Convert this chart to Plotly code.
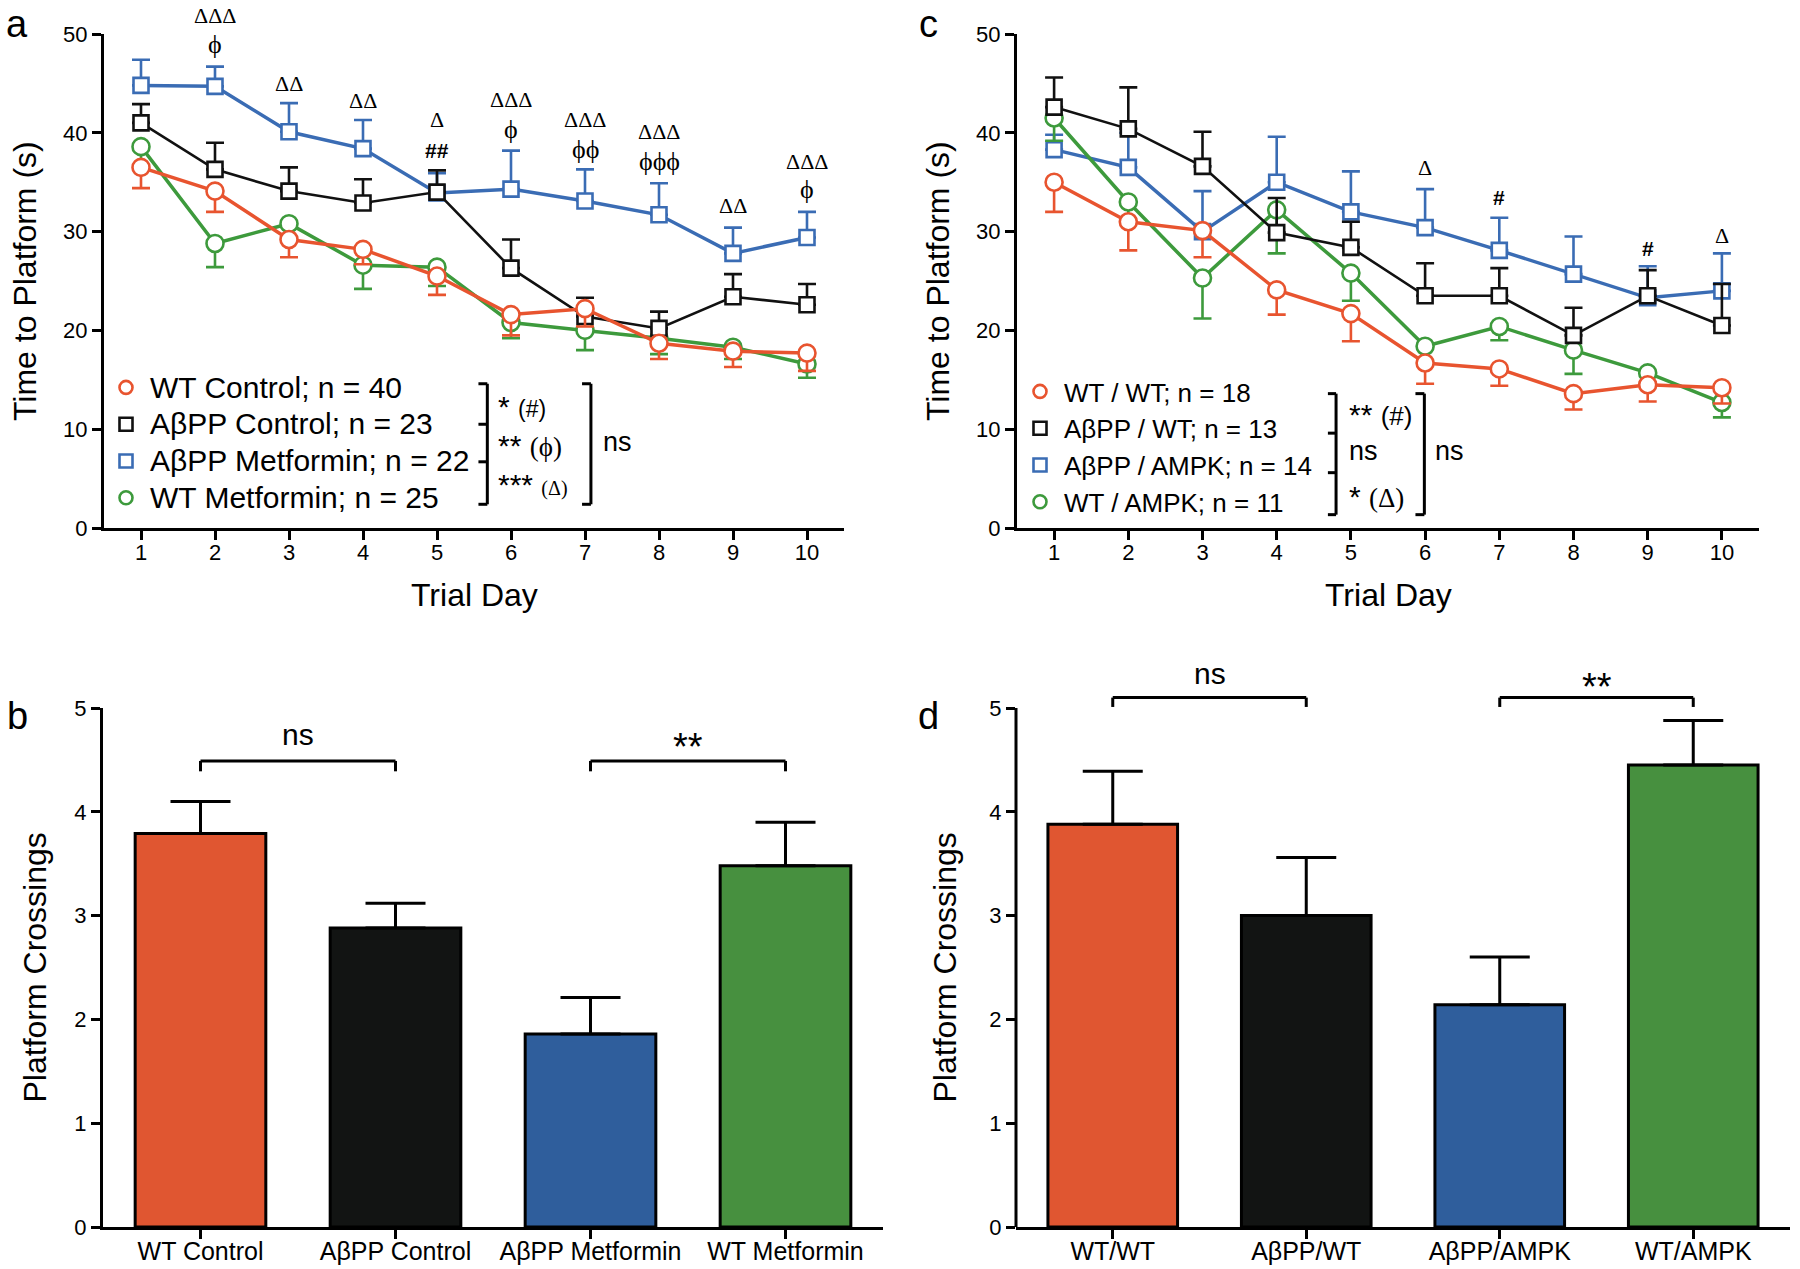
import plotly.graph_objects as go

W, H = 1800, 1269
SANS = "Liberation Sans, Arial, Helvetica, sans-serif"
SERIF = "Liberation Serif, DejaVu Serif, Times New Roman, serif"

ORANGE = "#E8542F"
BLACK = "#111111"
BLUE = "#3A6CB4"
GREEN = "#3D9A3C"
BAR_COLORS = ["#E05631", "#121413", "#2F5E9C", "#47903F"]

days = list(range(1, 11))

# ---- panel a : metformin study, escape latency ----
a_wt_ctrl = [36.5, 34.1, 29.2, 28.2, 25.5, 21.6, 22.2, 18.7, 17.9, 17.7]
a_wt_ctrl_err = [2.1, 2.1, 1.8, 1.5, 1.9, 2.1, 1.8, 1.6, 1.6, 1.8]
a_app_ctrl = [41.0, 36.3, 34.1, 32.9, 34.0, 26.3, 21.4, 20.2, 23.4, 22.6]
a_app_ctrl_err = [1.9, 2.7, 2.4, 2.4, 2.2, 2.9, 1.9, 1.7, 2.3, 2.1]
a_app_met = [44.8, 44.7, 40.1, 38.4, 33.9, 34.3, 33.1, 31.7, 27.8, 29.4]
a_app_met_err = [2.6, 2.0, 2.9, 2.9, 2.0, 3.9, 3.2, 3.2, 2.6, 2.6]
a_wt_met = [38.6, 28.8, 30.8, 26.6, 26.4, 20.8, 20.0, 19.2, 18.3, 16.6]
a_wt_met_err = [2.0, 2.4, 1.5, 2.4, 1.9, 1.6, 2.0, 1.6, 1.2, 1.4]
a_names = ["WT Control; n = 40", "AβPP Control; n = 23",
           "AβPP Metformin; n = 22", "WT Metformin; n = 25"]

a_sig_day = [2, 2, 3, 4, 5, 5, 6, 6, 7, 7, 8, 8, 9, 10, 10]
a_sig_txt = ["ΔΔΔ", "ϕ", "ΔΔ", "ΔΔ", "Δ", "##", "ΔΔΔ", "ϕ", "ΔΔΔ", "ϕϕ",
             "ΔΔΔ", "ϕϕϕ", "ΔΔ", "ΔΔΔ", "ϕ"]
a_sig_y = [51.9, 48.9, 45.0, 43.3, 41.3, 38.2, 43.4, 40.3, 41.3, 38.3,
           40.1, 37.1, 32.6, 37.1, 34.3]

# ---- panel c : AMPK study, escape latency ----
c_wt_wt = [35.0, 31.0, 30.1, 24.1, 21.7, 16.7, 16.1, 13.6, 14.5, 14.2]
c_wt_wt_err = [3.0, 2.9, 2.7, 2.5, 2.8, 2.1, 1.7, 1.6, 1.7, 1.6]
c_app_wt = [42.6, 40.4, 36.6, 29.9, 28.4, 23.5, 23.5, 19.5, 23.5, 20.5]
c_app_wt_err = [3.0, 4.2, 3.5, 3.5, 2.6, 3.3, 2.8, 2.8, 2.6, 4.2]
c_app_ampk = [38.3, 36.5, 30.0, 35.0, 32.0, 30.4, 28.1, 25.7, 23.3, 24.0]
c_app_ampk_err = [1.5, 3.5, 4.1, 4.6, 4.1, 3.9, 3.3, 3.8, 3.2, 3.8]
c_wt_ampk = [41.5, 33.0, 25.3, 32.2, 25.8, 18.4, 20.4, 18.0, 15.7, 12.7]
c_wt_ampk_err = [2.3, 2.0, 4.1, 4.4, 2.8, 1.5, 1.4, 2.4, 1.0, 1.5]
c_names = ["WT / WT; n = 18", "AβPP / WT; n = 13",
           "AβPP / AMPK; n = 14", "WT / AMPK; n = 11"]

c_sig_day = [6, 7, 9, 10]
c_sig_txt = ["Δ", "#", "#", "Δ"]
c_sig_y = [36.5, 33.5, 28.3, 29.6]

# ---- panel b / d : platform crossings ----
b_labels = ["WT Control", "AβPP Control", "AβPP Metformin", "WT Metformin"]
b_vals = [3.79, 2.88, 1.86, 3.48]
b_err = [0.31, 0.24, 0.35, 0.42]

d_labels = ["WT/WT", "AβPP/WT", "AβPP/AMPK", "WT/AMPK"]
d_vals = [3.88, 3.00, 2.14, 4.45]
d_err = [0.51, 0.56, 0.46, 0.43]

LAT_MAX = 50      # latency axis top
D_TOP = 5.5       # panel d range is taller than its axis line (room for bracket)
PX_PER_UNIT = 103.8


def xdom(p0, p1):
    return [p0 / W, p1 / W]


def ydom(p_bottom, p_top):
    return [1 - p_bottom / H, 1 - p_top / H]


fig = go.Figure()


def add_series(xa, ya, y, err, color, symbol, lw, up):
    zeros = [0] * len(err)
    fig.add_trace(go.Scatter(
        x=days, y=y, xaxis=xa, yaxis=ya, mode="lines+markers",
        line=dict(color=color, width=lw),
        marker=dict(symbol=symbol, size=17 if symbol == "circle" else 15,
                    color="white", line=dict(color=color, width=2.6)),
        error_y=dict(type="data", symmetric=False,
                     array=err if up else zeros,
                     arrayminus=zeros if up else err,
                     color=color, thickness=2.6, width=9),
        showlegend=False, hoverinfo="skip"))


def add_legend_keys(names, legend, size_px=None):
    styles = [(ORANGE, "circle"), (BLACK, "square"), (BLUE, "square"), (GREEN, "circle")]
    for name, (col, sym) in zip(names, styles):
        label = name if size_px is None else f"<span style='font-size:{size_px}px'>{name}</span>"
        fig.add_trace(go.Scatter(
            x=[None], y=[None], mode="markers", name=label, legend=legend,
            marker=dict(symbol=sym, size=13, color="white", line=dict(color=col, width=2.6)),
            showlegend=True))


# panel a traces (blue bottom, orange top)
add_series("x", "y", a_app_met, a_app_met_err, BLUE, "square", 3.5, True)
add_series("x", "y", a_wt_met, a_wt_met_err, GREEN, "circle", 3.5, False)
add_series("x", "y", a_app_ctrl, a_app_ctrl_err, BLACK, "square", 2.6, True)
add_series("x", "y", a_wt_ctrl, a_wt_ctrl_err, ORANGE, "circle", 3.5, False)
add_legend_keys(a_names, "legend", 30)

# panel c traces
add_series("x2", "y2", c_app_ampk, c_app_ampk_err, BLUE, "square", 3.5, True)
add_series("x2", "y2", c_wt_ampk, c_wt_ampk_err, GREEN, "circle", 3.5, False)
add_series("x2", "y2", c_app_wt, c_app_wt_err, BLACK, "square", 2.6, True)
add_series("x2", "y2", c_wt_wt, c_wt_wt_err, ORANGE, "circle", 3.5, False)
add_legend_keys(c_names, "legend2")

# bar panels
for xa, ya, labels, vals, err in [("x3", "y3", b_labels, b_vals, b_err),
                                  ("x4", "y4", d_labels, d_vals, d_err)]:
    fig.add_trace(go.Bar(
        x=labels, y=vals, xaxis=xa, yaxis=ya, width=0.67,
        marker=dict(color=BAR_COLORS, line=dict(color="black", width=3)),
        error_y=dict(type="data", symmetric=False, array=err,
                     arrayminus=[0] * len(err), color="black", thickness=3, width=30),
        showlegend=False, hoverinfo="skip"))

axis_common = dict(showline=True, linecolor="black", linewidth=3, ticks="outside",
                   ticklen=9, tickwidth=3, tickcolor="black", showgrid=False,
                   zeroline=False, automargin=False,
                   tickfont=dict(family=SANS, size=22, color="black"))
day_axis = {**axis_common, "ticklabelstandoff": -6}
cat_axis = {**axis_common, "ticklabelstandoff": -9,
            "tickfont": dict(family=SANS, size=25, color="black")}
legend_common = dict(xanchor="left", yanchor="top", bgcolor="rgba(0,0,0,0)",
                     font=dict(family=SANS, size=26, color="black"),
                     tracegroupgap=0, itemclick=False, itemwidth=38)

fig.update_layout(
    width=W, height=H, margin=dict(l=0, r=0, t=0, b=0, autoexpand=False),
    paper_bgcolor="white", plot_bgcolor="white",
    font=dict(family=SANS, color="black"),
    xaxis=dict(domain=xdom(104, 844), range=[0.5, 10.5], tickvals=days, anchor="y", **day_axis),
    yaxis=dict(domain=ydom(528, 34), range=[0, LAT_MAX], dtick=10, anchor="x", **axis_common),
    xaxis2=dict(domain=xdom(1017, 1759), range=[0.5, 10.5], tickvals=days, anchor="y2", **day_axis),
    yaxis2=dict(domain=ydom(528, 34), range=[0, LAT_MAX], dtick=10, anchor="x2", **axis_common),
    xaxis3=dict(domain=xdom(103, 883), range=[-0.5, 3.5], anchor="y3", **cat_axis),
    yaxis3=dict(domain=ydom(1227, 1227 - 5 * PX_PER_UNIT), range=[0, 5], dtick=1, anchor="x3",
                **axis_common),
    xaxis4=dict(domain=xdom(1016, 1790), range=[-0.5, 3.5], anchor="y4", **cat_axis),
    yaxis4=dict(domain=ydom(1227, 1227 - D_TOP * PX_PER_UNIT), range=[0, D_TOP],
                tickvals=[0, 1, 2, 3, 4, 5], anchor="x4", **{**axis_common, "showline": False}),
    legend=dict(x=102 / W, y=1 - 364 / H, **legend_common),
    legend2=dict(x=1016 / W, y=1 - 368 / H, **legend_common),
)

shapes = []
annotations = []


def seg(xa, ya, x0, y0, x1, y1, w=3):
    shapes.append(dict(type="line", xref=xa, yref=ya, x0=x0, y0=y0, x1=x1, y1=y1,
                       line=dict(color="black", width=w)))


def note(xa, ya, x, y, text, size, family=SANS, xanchor="center"):
    annotations.append(dict(xref=xa, yref=ya, x=x, y=y, text=text, showarrow=False,
                            xanchor=xanchor, yanchor="middle",
                            font=dict(family=family, size=size, color="black")))


# y-axis line of panel d (range is extended above 5 for the bracket)
shapes.append(dict(type="line", xref="x4 domain", yref="y4", x0=0, x1=0, y0=0, y1=5,
                   line=dict(color="black", width=3)))


def sig_marks(xa, ya, ds, ts, ys):
    # placed on the axis domain so that marks above the top of the range still show
    for d, t, yv in zip(ds, ts, ys):
        if "#" in t:
            note(xa, ya + " domain", d, yv / LAT_MAX, "<b>" + t + "</b>", 21)
        elif "ϕ" in t:
            note(xa, ya + " domain", d, yv / LAT_MAX, t, 26, SERIF)
        else:
            note(xa, ya + " domain", d, yv / LAT_MAX, t, 22, SERIF)
        annotations[-1]["xref"] = xa


sig_marks("x", "y", a_sig_day, a_sig_txt, a_sig_y)
sig_marks("x2", "y2", c_sig_day, c_sig_txt, c_sig_y)

# legend brackets, panel a
seg("x", "y", 5.68, 14.6, 5.68, 2.4)
for yv in (14.6, 2.4, 10.5, 6.7):
    seg("x", "y", 5.56, yv, 5.68, yv)
seg("x", "y", 7.08, 14.6, 7.08, 2.4)
for yv in (14.6, 2.4):
    seg("x", "y", 6.96, yv, 7.08, yv)
note("x", "y", 5.80, 12.3, "* <span style='font-size:23px'>(#)</span>", 30, xanchor="left")
note("x", "y", 5.80, 8.4, "** <span style='font-family:Liberation Serif;font-size:27px'>(ϕ)</span>", 30, xanchor="left")
note("x", "y", 5.80, 4.4, "*** <span style='font-family:Liberation Serif;font-size:20px'>(Δ)</span>", 30, xanchor="left")
note("x", "y", 7.22, 8.7, "ns", 27, xanchor="left")

# legend brackets, panel c
seg("x2", "y2", 4.80, 13.6, 4.80, 1.35)
for yv in (13.6, 1.35, 9.6, 5.6):
    seg("x2", "y2", 4.69, yv, 4.80, yv)
seg("x2", "y2", 5.99, 13.6, 5.99, 1.35)
for yv in (13.6, 1.35):
    seg("x2", "y2", 5.87, yv, 5.99, yv)
note("x2", "y2", 4.95, 11.5, "** <span style='font-size:26px'>(#)</span>", 30, xanchor="left")
note("x2", "y2", 4.95, 7.8, "ns", 27, xanchor="left")
note("x2", "y2", 4.95, 3.2, "* <span style='font-family:Liberation Serif;font-size:27px'>(Δ)</span>", 30, xanchor="left")
note("x2", "y2", 6.10, 7.8, "ns", 27, xanchor="left")

# bar comparison brackets
for xa, ya, ytop, ytick, ns_y, st_y in [("x3", "y3", 4.49, 4.39, 4.74, 4.62),
                                        ("x4", "y4", 5.10, 5.01, 5.33, 5.20)]:
    for (c0, c1), lab, ly in zip([(0, 1), (2, 3)], ("ns", "**"), (ns_y, st_y)):
        seg(xa, ya, c0, ytop, c1, ytop)
        seg(xa, ya, c0, ytop, c0, ytick)
        seg(xa, ya, c1, ytop, c1, ytick)
        note(xa, ya, (c0 + c1) / 2, ly, lab, 30 if lab == "ns" else 38)

# axis titles and panel letters
for xa in ("x", "x2"):
    annotations.append(dict(xref=xa + " domain", yref="paper", x=0.5, y=1 - 595 / H,
                            text="Trial Day", showarrow=False, yanchor="middle",
                            font=dict(family=SANS, size=32, color="black")))
for ya, x_px, txt, ymid in [("y", 25, "Time to Platform (s)", 0.5),
                            ("y2", 938, "Time to Platform (s)", 0.5),
                            ("y3", 34, "Platform Crossings", 0.5),
                            ("y4", 944, "Platform Crossings", 2.5 / D_TOP)]:
    annotations.append(dict(xref="paper", yref=ya + " domain", x=x_px / W, y=ymid, text=txt,
                            showarrow=False, textangle=-90, xanchor="center", yanchor="middle",
                            font=dict(family=SANS, size=32, color="black")))
for txt, x_px, y_px in [("a", 17, 24), ("b", 17, 716), ("c", 928, 24), ("d", 928, 716)]:
    annotations.append(dict(xref="paper", yref="paper", x=x_px / W, y=1 - y_px / H, text=txt,
                            showarrow=False, xanchor="center", yanchor="middle",
                            font=dict(family=SANS, size=38, color="black")))

fig.update_layout(shapes=shapes, annotations=annotations)
fig.write_html("out.html", config={"displayModeBar": False},
               post_script="document.body.style.margin='0';document.body.style.overflow='hidden';")
